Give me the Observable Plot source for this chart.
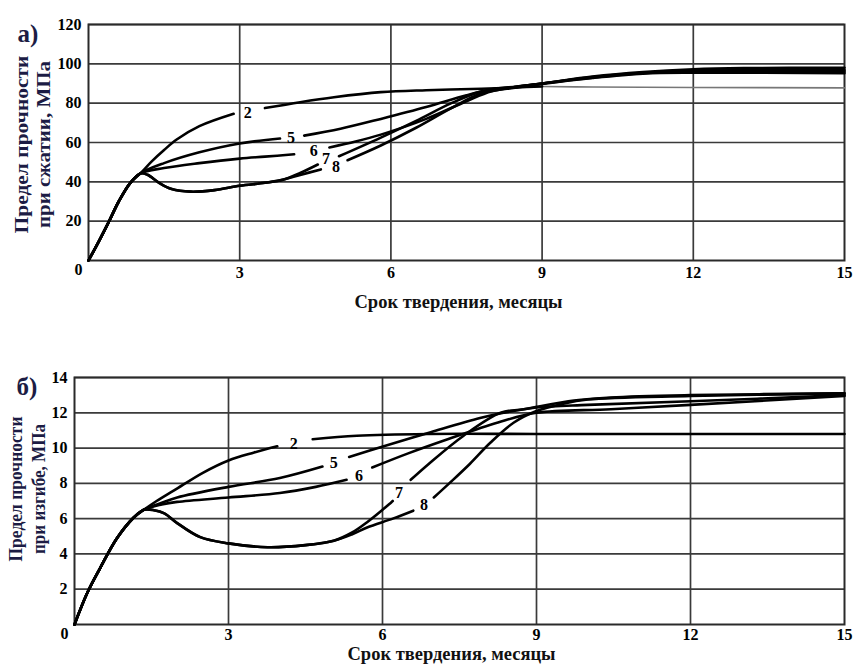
<!DOCTYPE html>
<html>
<head>
<meta charset="utf-8">
<script src="https://cdn.jsdelivr.net/npm/d3@7"></script>
<script src="https://cdn.jsdelivr.net/npm/@observablehq/plot@0.6"></script>
<style>
  html, body { margin: 0; padding: 0; background: #fff; }
  #top, #bottom { width: 854px; }
</style>
</head>
<body>
<div id="top"></div>
<div id="bottom"></div>
<script>
// ---------- shared text ----------
const xAxisLabel = "Срок твердения, месяцы";
const topPanelTag = "а)";
const bottomPanelTag = "б)";
const yLabelLine1 = "Предел прочности";
const topYLabelLine2 = "при сжатии, МПа";
const bottomYLabelLine2 = "при изгибе, МПа";
const monthTicks = [3, 6, 9, 12, 15];
const monthGrid = [3, 6, 9, 12];
const compTicks = [20, 40, 60, 80, 100, 120];
const flexTicks = [2, 4, 6, 8, 10, 12, 14];

// ---------- (а) compressive strength, [month, MPa]; null = gap for label ----------
const compStart = [[0,0],[0.2,9.5],[0.4,19.5],[0.6,30],[0.83,39.5],[1.03,44.3]];
const compCurve2 = [[1.25,50.3],[1.5,56.2],[1.75,61.5],[2.2,68.3],[2.88,74.6],null,[3.5,77.5],[4.2,80.5],[4.87,83],[5.8,85.6],[6.7,86.6],[7.8,87.3],[8.5,88],[9,88.5]];
const compCurve2Tail = [[9,88.5],[10,88.2],[12,88],[15,87.8]];
const compCurve5 = [[1.5,49.5],[2.2,55],[3,59.5],[3.8,62],null,[4.28,63.5],[5,67],[5.8,72],[6.7,78],[7.5,84],[8,87],[8.5,88.5],[9,90],[10,93.5],[11,95.8],[12,97.2],[13,97.8],[15,98]];
const compCurve6 = [[1.5,47],[2.2,49.5],[3,51.8],[3.5,52.8],[4.08,54],null,[4.78,57.5],[5.3,60.5],[5.8,64],[6.7,72],[7.5,81],[8,86],[8.5,88.3],[9,90],[10,93.3],[11,95.5],[12,96.5],[15,96.8]];
const compDip = [[1.17,43.6],[1.4,39.5],[1.65,36.3],[2.03,35],[2.5,35.8],[3,38],[3.5,39.5],[3.85,41]];
const compCurve7 = [[4.2,44.5],[4.55,48.8],null,[4.97,53],[5.8,62.5],[6.5,71],[7.2,80],[7.8,86],[8.5,88.3],[9,90],[10,93],[11,95.2],[12,96],[15,96]];
const compCurve8 = [[4.2,43.5],[4.61,46.3],null,[5.14,51],[5.8,58.5],[6.5,67.5],[7.2,77.5],[7.8,85],[8.5,88],[9,89.8],[10,92.8],[11,95],[12,95.5],[15,95.2]];
const compLabelNames = ["2","5","6","7","8"];
const compLabelX = [3.16, 4.02, 4.47, 4.71, 4.91];
const compLabelY = [74.9, 62.4, 55.6, 51.7, 47.4];

// ---------- (б) flexural strength, [month, MPa] ----------
const flexStart = [[0,0],[0.25,1.8],[0.5,3.2],[0.83,4.9],[1.15,6.05],[1.35,6.5]];
const flexCurve2 = [[1.6,7.0],[1.94,7.6],[2.5,8.6],[3,9.3],[3.5,9.75],[3.95,10.1],null,[4.64,10.5],[5.5,10.7],[6.88,10.8],[9,10.8],[12,10.8],[15,10.8]];
const flexCurve5 = [[1.7,6.9],[2,7.2],[3,7.8],[4,8.3],[4.83,8.95],null,[5.35,9.5],[5.96,10.05],[6.94,10.9],[7.9,11.7],[8.36,12.0],[9,12.3],[10,12.45],[12,12.65],[15,13.0]];
const flexCurve6 = [[1.7,6.8],[2,6.95],[3,7.2],[4,7.45],[4.7,7.8],[5.3,8.2],null,[5.8,8.9],[6.5,9.7],[7.27,10.5],[8.25,11.45],[9,12.0],[10.45,12.2],[12,12.45],[15,12.95]];
const flexDip = [[1.55,6.48],[1.75,6.3],[2.0,5.75],[2.45,4.95],[3,4.6],[3.76,4.38],[4.5,4.5],[5.05,4.75]];
const flexCurve7 = [[5.4,5.2],[5.7,5.8],[6.0,6.5],[6.2,7.0],null,[6.55,8.2],[6.9,9.1],[7.58,10.7],[8.3,12.0],[8.75,12.2],[9.73,12.7],[10.45,12.87],[12,13.0],[15,13.1]];
const flexCurve8 = [[5.4,5.1],[5.7,5.5],[6.2,6.0],[6.6,6.45],null,[7.0,7.2],[7.3,8.0],[7.7,9.1],[8.1,10.3],[8.56,11.45],[9,12.1],[9.5,12.5],[10,12.75],[12,12.95],[15,13.1]];
const flexLabelNames = ["2","5","6","7","8"];
const flexLabelX = [4.27, 5.05, 5.54, 6.32, 6.81];
const flexLabelY = [10.26, 9.14, 8.45, 7.48, 6.8];

// ---------- helpers ----------
function rows(series, pts) {
  return pts.map(p => p ? {series, x: p[0], y: p[1]} : {series, x: NaN, y: NaN});
}
function labelRows(names, xs, ys) {
  return names.map((n, i) => ({text: n, x: xs[i], y: ys[i]}));
}
const serif = "'Liberation Serif', 'Times New Roman', serif";
const gridStyle = {stroke: "#3a3a3a", strokeOpacity: 1, strokeWidth: 1.7};
const navy = "#1c1c44";

function panel({data, tail, labels, yDomain, yTicks, height, marginLeft, marginTop, marginBottom,
                tag, tagDx, yLine2, yDx1, yDx2, yDy, yFont, yLen1, yLen2, xLabelDy, tickDy}) {
  const marks = [
    Plot.gridX(monthGrid, gridStyle),
    Plot.gridY(yTicks, gridStyle),
    Plot.frame({stroke: "#2a2a2a", strokeWidth: 2}),
    Plot.axisX(monthTicks, {tickSize: 0, tickPadding: tickDy, label: null, fontWeight: "bold", fontSize: 16}),
    Plot.axisY(yTicks, {tickSize: 0, tickPadding: 7, label: null, fontWeight: "bold", fontSize: 16}),
    Plot.text([0], {x: 0, y: 0, text: d => String(d), dx: -10, dy: 9, fontWeight: "bold", fontSize: 16}),
  ];
  if (tail) marks.push(Plot.line(tail, {x: "x", y: "y", stroke: "#777", strokeWidth: 1.6, curve: "catmull-rom"}));
  marks.push(
    Plot.line(data, {x: "x", y: "y", z: "series", stroke: "#000", strokeWidth: 2.6, curve: "catmull-rom"}),
    Plot.text(labels, {x: "x", y: "y", text: "text", fontWeight: "bold", fontSize: 16, fill: "#000"}),
    Plot.text([xAxisLabel], {frameAnchor: "bottom", dy: xLabelDy, dx: -8, fontWeight: "bold", fontSize: 18.5, fill: "#111"}),
    Plot.text([yLabelLine1], {frameAnchor: "left", dx: yDx1, dy: yDy, rotate: -90, textAnchor: "middle", fontWeight: "bold", fontSize: yFont, fill: navy}),
    Plot.text([yLine2], {frameAnchor: "left", dx: yDx2, dy: yDy, rotate: -90, textAnchor: "middle", fontWeight: "bold", fontSize: yFont, fill: navy}),
    Plot.text([tag], {frameAnchor: "top-left", dx: tagDx, dy: 0, textAnchor: "start", fontWeight: "bold", fontSize: 25, fill: navy})
  );
  const svg = Plot.plot({
    width: 854, height, marginLeft, marginRight: 10, marginTop, marginBottom,
    style: {fontFamily: serif, background: "#fff", color: "#000", overflow: "visible"},
    x: {domain: [0, 15], label: null},
    y: {domain: yDomain, label: null},
    marks
  });
  // fit the rotated axis title lines to the lengths seen in the reference
  d3.select(svg).selectAll("text").each(function () {
    const t = this.textContent;
    if (t === yLabelLine1) d3.select(this).attr("textLength", yLen1).attr("lengthAdjust", "spacingAndGlyphs");
    if (t === yLine2) d3.select(this).attr("textLength", yLen2).attr("lengthAdjust", "spacingAndGlyphs");
  });
  return svg;
}

const compData = [
  ...rows("2", [...compStart, ...compCurve2]),
  ...rows("5", [...compStart, ...compCurve5]),
  ...rows("6", [...compStart, ...compCurve6]),
  ...rows("7", [...compStart, ...compDip, ...compCurve7]),
  ...rows("8", [...compStart, ...compDip, ...compCurve8]),
];
const flexData = [
  ...rows("2", [...flexStart, ...flexCurve2]),
  ...rows("5", [...flexStart, ...flexCurve5]),
  ...rows("6", [...flexStart, ...flexCurve6]),
  ...rows("7", [...flexStart, ...flexDip, ...flexCurve7]),
  ...rows("8", [...flexStart, ...flexDip, ...flexCurve8]),
];

document.getElementById("top").append(panel({
  data: compData, tail: rows("2t", compCurve2Tail),
  labels: labelRows(compLabelNames, compLabelX, compLabelY),
  yDomain: [0, 120], yTicks: compTicks, height: 330,
  marginLeft: 88, marginTop: 24, marginBottom: 70,
  tag: topPanelTag, tagDx: -71, yLine2: topYLabelLine2, yDx1: -67, yDx2: -45, yDy: 2,
  yFont: 19, yLen1: 178, yLen2: 167,
  xLabelDy: 47, tickDy: 6
}));
document.getElementById("bottom").append(panel({
  data: flexData, tail: null,
  labels: labelRows(flexLabelNames, flexLabelX, flexLabelY),
  yDomain: [0, 14], yTicks: flexTicks, height: 337,
  marginLeft: 74, marginTop: 47, marginBottom: 43,
  tag: bottomPanelTag, tagDx: -58, yLine2: bottomYLabelLine2, yDx1: -59, yDx2: -36, yDy: -12,
  yFont: 19, yLen1: 145, yLen2: 130,
  xLabelDy: 35, tickDy: 4
}));
</script>
</body>
</html>
